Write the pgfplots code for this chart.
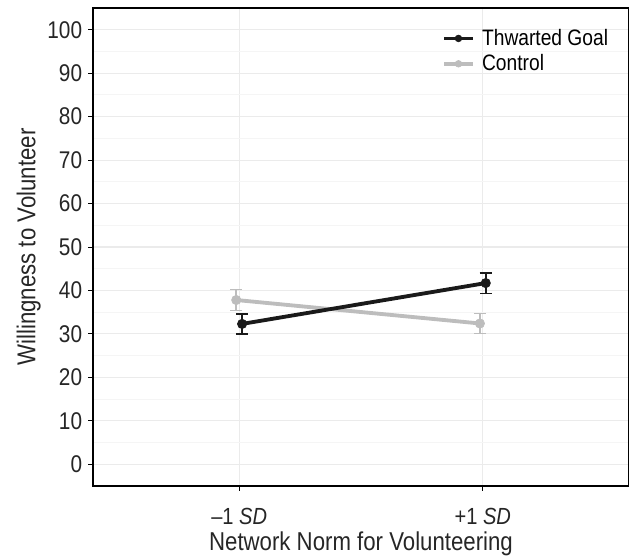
\documentclass[border=0pt]{standalone}
\usepackage{fontspec}
\setmainfont{Liberation Sans}[FakeStretch=0.86]
\usepackage{pgfplots}
\pgfplotsset{compat=1.18}
\usetikzlibrary{calc}

\definecolor{thwart}{HTML}{1A1A1A}
\definecolor{ctrl}{HTML}{BDBDBD}
\definecolor{gridmaj}{HTML}{EBEBEB}
\definecolor{gridmin}{HTML}{F5F5F5}

% 1 px of the reference = 0.6pt
\def\px{0.6pt}

\begin{document}
\begin{tikzpicture}
\begin{axis}[
    name=ax,
    scale only axis,
    width=321.6pt, height=286.8pt,
    xmin=0.4, xmax=2.6,
    ymin=-5, ymax=105,
    xtick={1,2},
    xticklabels={–1 \textit{SD}, +1 \textit{SD}},
    ytick={0,10,...,100},
    minor y tick num=1,
    minor tick length=0pt,
    major tick length=3pt,
    tick align=outside,
    xtick pos=bottom, ytick pos=left,
    tick style={black, line width=0.5pt},
    axis line style={black, line width=0.7pt},
    grid=both,
    major grid style={gridmaj, line width=0.7pt},
    minor grid style={gridmin, line width=0.5pt},
    tick label style={font=\fontsize{14}{16}\selectfont, text=black!85},
    yticklabel style={font=\fontsize{14.5}{16}\selectfont},
    xticklabel style={yshift=-7pt},
    /pgf/number format/assume math mode=true,
    xlabel={Network Norm for Volunteering},
    ylabel={Willingness to Volunteer},
    label style={font=\fontsize{15.5}{17}\selectfont, text=black!85},
    xlabel style={yshift=3pt},
    ylabel style={yshift=-2.8pt},
    legend style={draw=none, fill=none, at={(0.648,0.967)}, anchor=north west,
        font=\fontsize{13.4}{15}\selectfont, row sep=0pt,
        legend cell align=left, inner sep=1pt,
        nodes={inner xsep=4.5pt}},
    legend image code/.code={
        \draw[#1, mark size=2pt, mark repeat=2, mark phase=2] plot coordinates {(0cm,0cm) (0.3cm,0cm) (0.6cm,0cm)};
    },
    reverse legend,
]
% Control
\addplot[ctrl, line width=2.3pt, mark=*, mark size=2.8pt,
    mark options={line width=0.4pt},
    error bars/.cd, y dir=both, y explicit,
    error bar style={line width=1.1pt, ctrl},
    error mark options={rotate=90, mark size=3.6pt, line width=1.1pt, ctrl}]
    coordinates {
    (0.988, 37.8) +- (0, 2.4)
    (1.988, 32.4) +- (0, 2.3)
};
\addlegendentry{Control}
% Thwarted goal
\addplot[thwart, line width=2.3pt, mark=*, mark size=2.8pt,
    mark options={line width=0.4pt},
    error bars/.cd, y dir=both, y explicit,
    error bar style={line width=1.1pt, thwart},
    error mark options={rotate=90, mark size=3.6pt, line width=1.1pt, thwart}]
    coordinates {
    (1.012, 32.3) +- (0, 2.3)
    (2.012, 41.7) +- (0, 2.4)
};
\addlegendentry{Thwarted Goal}
\end{axis}
\pgfresetboundingbox
\path ($(ax.south west)+(-93*\px,-71*\px)$) rectangle ($(ax.north east)+(0,8*\px)$);
\end{tikzpicture}
\end{document}
